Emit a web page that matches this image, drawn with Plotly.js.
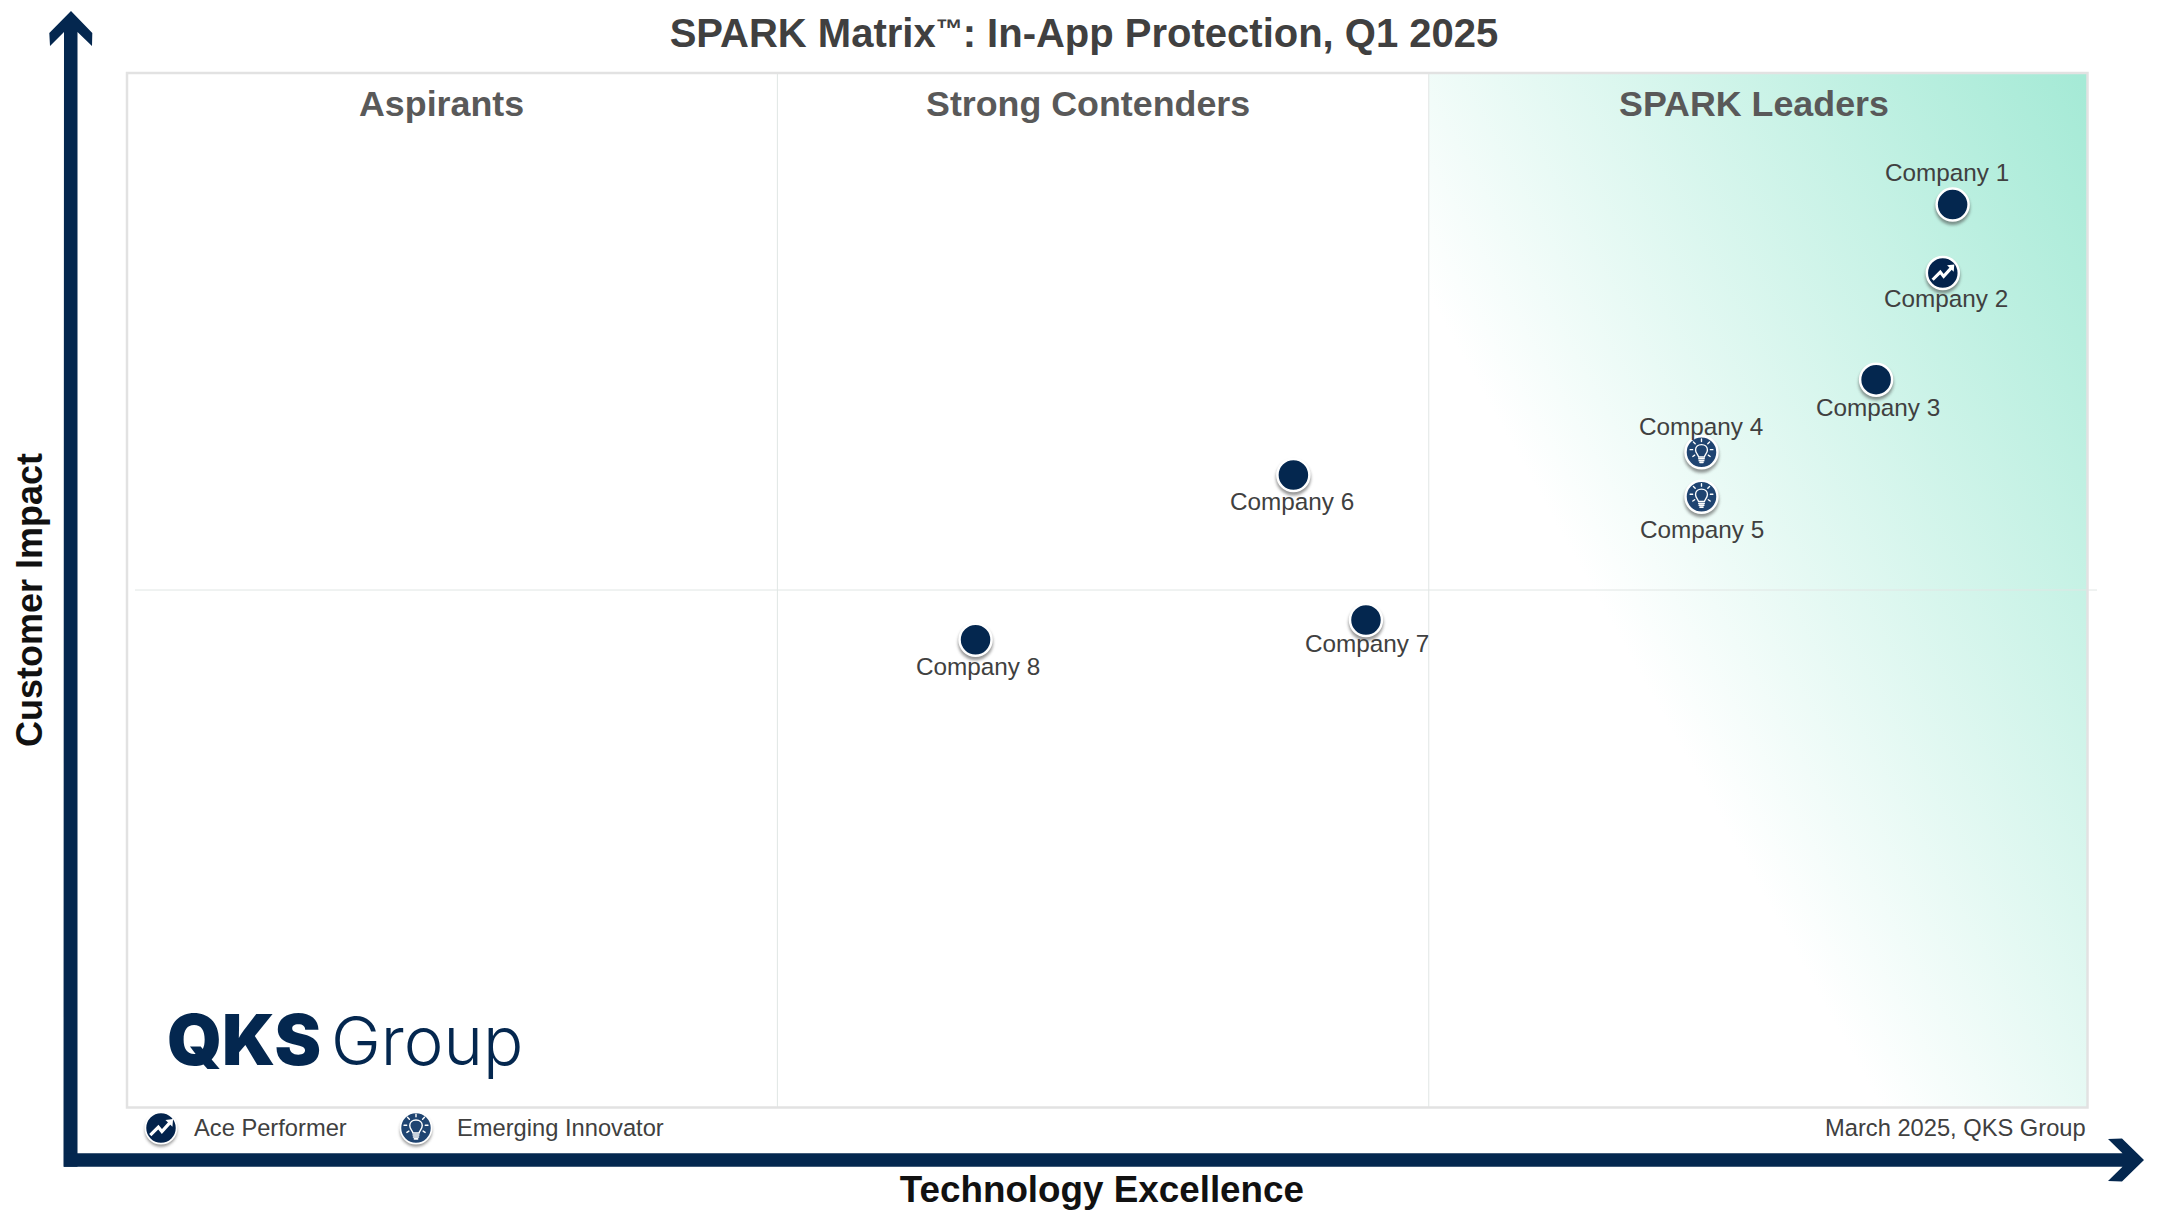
<!DOCTYPE html>
<html>
<head>
<meta charset="utf-8">
<script src="https://cdn.plot.ly/plotly-3.0.1.min.js"></script>
<style>html,body{margin:0;padding:0;background:#fff}#chart{width:2160px;height:1215px}</style>
</head>
<body>
<div id="chart"></div>
<script>
// ---- data ----
const companies = ["Company 1","Company 2","Company 3","Company 4","Company 5","Company 6","Company 7","Company 8"];
const techExcellence = [93.1, 92.6, 89.2, 80.3, 80.3, 59.5, 63.2, 43.3];
const customerImpact = [87.2, 80.6, 70.3, 63.3, 59.0, 61.1, 47.1, 45.2];
const awards = ["", "Ace Performer", "", "Emerging Innovator", "Emerging Innovator", "", "", ""];
const quadrantNames = ["Aspirants","Strong Contenders","SPARK Leaders"];
const quadrantCentres = [16.1, 49.05, 83.0];
const xDividers = [33.2, 66.4];
const yDivider = 50;

// ---- styling / placement (pixels, not data) ----
const W = 2160, H = 1215;
const L = 126, R = 2088, T = 72, B = 1108;
const PW = R - L, PH = B - T;
const NAVY = "#04274F", BULB = "#1F4471", TXT = "#404040", GRID = "#E2E2E2";
const labelDx = [-5.5, 3, 2, 0, 1, -1, 1, 2];
const labelDy = [-32, 26, 27.5, -26, 33, 26, 23, 26.5];
const px = v => (v - L) / PW;          // pixel → paper x
const py = v => (B - v) / PH;          // pixel → paper y
const svgURI = s => "data:image/svg+xml;charset=utf-8," + encodeURIComponent(s);

const TREND = `<path d="M8 28 L17 19 L21 24 L30 14" fill="none" stroke="#fff" stroke-width="3.6" stroke-linejoin="miter"/><path d="M25 11 L33.5 10 L32.8 18.5 Z" fill="#fff"/>`;
const BULBG = `<g fill="none" stroke="#fff" stroke-width="1.6" stroke-linecap="round"><path d="M16.6 25.6 C16 22.6 13 21.3 13 17.3 C13 13.5 16 11 20 11 C24 11 27 13.5 27 17.3 C27 21.3 24 22.6 23.4 25.6 Z"/><path d="M20 4.5 V7.5 M10.5 8 L12.6 10.1 M29.5 8 L27.4 10.1 M6.6 17 H9.6 M30.4 17 H33.4 M9.8 25 L12 23.5 M30.2 25 L28 23.5"/><path d="M16.8 27.8 H23.2 M17.2 30 H22.8 M18.2 32.2 H21.8" stroke-width="1.8"/></g>`;
const glyph = g => svgURI(`<svg xmlns="http://www.w3.org/2000/svg" width="40" height="40" viewBox="0 0 40 40">${g}</svg>`);
const legendIcon = (g, fill) => svgURI(`<svg xmlns="http://www.w3.org/2000/svg" width="56" height="56" viewBox="-8 -8 56 56"><defs><filter id="b" x="-30%" y="-30%" width="160%" height="160%"><feGaussianBlur stdDeviation="1.8"/></filter></defs><circle cx="20" cy="23" r="18" fill="#444" opacity=".55" filter="url(#b)"/><circle cx="20" cy="20" r="17.5" fill="${fill}" stroke="#fff" stroke-width="2"/>${g}</svg>`);
const SHADOW = svgURI(`<svg xmlns="http://www.w3.org/2000/svg" width="56" height="56" viewBox="0 0 56 56"><defs><filter id="b" x="-30%" y="-30%" width="160%" height="160%"><feGaussianBlur stdDeviation="1.8"/></filter></defs><circle cx="28" cy="31" r="17.5" fill="#444" opacity=".55" filter="url(#b)"/></svg>`);
const GRAD_W = R - (L + PW * xDividers[1] / 100), GRAD_H = PH;
const GRADIENT = svgURI(`<svg xmlns="http://www.w3.org/2000/svg" width="${GRAD_W}" height="${GRAD_H}" viewBox="0 0 ${GRAD_W} ${GRAD_H}" preserveAspectRatio="none"><defs><linearGradient id="g" gradientUnits="userSpaceOnUse" x1="-35" y1="162" x2="556.5" y2="-168"><stop offset="0" stop-color="#FFFFFF"/><stop offset="1" stop-color="#A5EAD6"/></linearGradient></defs><rect width="${GRAD_W}" height="${GRAD_H}" fill="url(#g)"/></svg>`);

// ---- traces ----
function pick(kind) {
  const idx = companies.map((_, i) => i).filter(i => awards[i] === kind);
  return { x: idx.map(i => techExcellence[i]), y: idx.map(i => customerImpact[i]), text: idx.map(i => companies[i]) };
}
const traceFor = (kind, name, color) => Object.assign(pick(kind), {
  type: "scatter", mode: "markers", name, hoverinfo: "text", cliponaxis: false, showlegend: false,
  marker: { size: 32, color, line: { color: "#FFFFFF", width: 2.5 } }
});
const data = [
  traceFor("", "Vendor", NAVY),
  traceFor("Ace Performer", "Ace Performer", "#03234C"),
  traceFor("Emerging Innovator", "Emerging Innovator", BULB)
];

// ---- images ----
const UX = 100 / PW, UY = 100 / PH;
const images = [{
  source: GRADIENT, xref: "x", yref: "y", x: xDividers[1], y: 100, sizex: 100 - xDividers[1], sizey: 100,
  xanchor: "left", yanchor: "top", sizing: "stretch", layer: "below"
}];
companies.forEach((c, i) => {
  images.push({ source: SHADOW, xref: "x", yref: "y", x: techExcellence[i], y: customerImpact[i], sizex: 56 * UX, sizey: 56 * UY,
    xanchor: "center", yanchor: "middle", sizing: "stretch", layer: "below" });
  if (awards[i]) images.push({ source: glyph(awards[i] === "Ace Performer" ? TREND : BULBG), xref: "x", yref: "y",
    x: techExcellence[i], y: customerImpact[i], sizex: 34 * UX, sizey: 34 * UY, xanchor: "center", yanchor: "middle", sizing: "stretch", layer: "above" });
});
[[161, "Ace Performer"], [416, "Emerging Innovator"]].forEach(([cx, k]) => images.push({
  source: legendIcon(k === "Ace Performer" ? TREND : BULBG, k === "Ace Performer" ? "#03234C" : BULB),
  xref: "paper", yref: "paper", x: px(cx), y: py(1128), sizex: 50 / PW, sizey: 50 / PH, xanchor: "center", yanchor: "middle", sizing: "stretch", layer: "above"
}));

// ---- annotations ----
const FONT = "Liberation Sans, Arial, sans-serif";
const note = (text, x, y, opts) => Object.assign({ text, x, y, xref: "paper", yref: "paper", showarrow: false, xanchor: "center", yanchor: "middle",
  font: { family: FONT, size: 24, color: TXT } }, opts);
const annotations = [];
quadrantNames.forEach((q, i) => annotations.push({ text: "<b>" + q + "</b>", x: quadrantCentres[i], y: py(104), xref: "x", yref: "paper", showarrow: false,
  xanchor: "center", yanchor: "middle", font: { family: FONT, size: 35.8, color: "#595959" } }));
companies.forEach((c, i) => annotations.push({ text: c, x: techExcellence[i], y: customerImpact[i], xref: "x", yref: "y", showarrow: false,
  xanchor: "center", yanchor: "middle", xshift: labelDx[i], yshift: -labelDy[i], font: { family: FONT, size: 24.3, color: TXT } }));
annotations.push(note("Ace Performer", px(191.6), py(1128), { xanchor: "left", font: { family: FONT, size: 23.7, color: TXT } }));
annotations.push(note("Emerging Innovator", px(454.6), py(1128), { xanchor: "left", font: { family: FONT, size: 23.7, color: TXT } }));
annotations.push(note("March 2025, QKS Group", px(2087.7), py(1128), { xanchor: "right", font: { family: FONT, size: 23.7, color: TXT } }));
annotations.push(note("QKS", px(165), py(1039), { xanchor: "left", font: { family: "Inter, sans-serif", size: 70, color: NAVY, weight: 900 } }));
annotations.push(note("Group", px(329), py(1040), { xanchor: "left", font: { family: "Inter, sans-serif", size: 67, color: NAVY, weight: 300 } }));

// ---- shapes: frame arrows and quadrant dividers ----
const P = (x, y) => `${px(x)},${py(y)}`;
const upArrow = "M" + [P(71,11),P(92.3,33),P(92,46),P(77.5,32),P(77.5,1166.7),P(63.5,1166.7),P(64,32),P(50,46),P(49.3,33)].join(" L") + " Z";
const rightArrow = "M" + [P(2144,1160),P(2122,1138.5),P(2108,1139),P(2122.5,1153.3),P(64,1153.3),P(64,1166.7),P(2122.5,1166.7),P(2108,1181),P(2122,1181.5)].join(" L") + " Z";
const arrowShape = d => ({ type: "path", path: d, xref: "paper", yref: "paper", fillcolor: NAVY, line: { width: 0 }, layer: "above" });
const shapes = [
  ...xDividers.map(v => ({ type: "line", xref: "x", yref: "paper", x0: v, x1: v, y0: 0, y1: 1, line: { color: "#E0E6E4", width: 1 }, layer: "above" })),
  { type: "line", xref: "paper", yref: "y", x0: px(135), x1: px(2097), y0: yDivider, y1: yDivider, line: { color: "#E0E6E4", width: 1 }, layer: "above" },
  { type: "rect", xref: "paper", yref: "paper", x0: px(127), x1: px(2087.5), y0: py(1107.5), y1: py(73), line: { color: GRID, width: 2.5 }, fillcolor: "rgba(0,0,0,0)", layer: "above" },
  arrowShape(upArrow), arrowShape(rightArrow)
];

const axis = titleText => ({
  range: [0, 100], fixedrange: true, showgrid: false, zeroline: false, showticklabels: false, ticks: "",
  showline: false, automargin: false,
  title: { text: "<b>" + titleText + "</b>", font: { family: FONT, size: 36.8, color: "#111111" } }
});
const xaxis = axis("Technology Excellence\u00A0");
xaxis.title.standoff = 68;
const yaxis = axis("Customer Impact\u00A0\u00A0");
yaxis.title.standoff = 71;
yaxis.title.font.size = 36;

const layout = {
  width: W, height: H, paper_bgcolor: "#fff", plot_bgcolor: "rgba(0,0,0,0)",
  margin: { l: L, r: W - R, t: T, b: H - B, pad: 0 },
  title: { text: '<b>SPARK Matrix<span style="font-size:27px;baseline-shift:9px">™</span>: In-App Protection, Q1 2025</b>', x: 1084 / W, xref: "container", xanchor: "center", y: 1 - 33 / H, yanchor: "middle",
    font: { family: FONT, size: 40, color: "#404040" } },
  xaxis, yaxis, images, annotations, shapes, showlegend: false, hovermode: "closest"
};
Plotly.newPlot("chart", data, layout, { displayModeBar: false, responsive: false });
</script>
</body>
</html>
